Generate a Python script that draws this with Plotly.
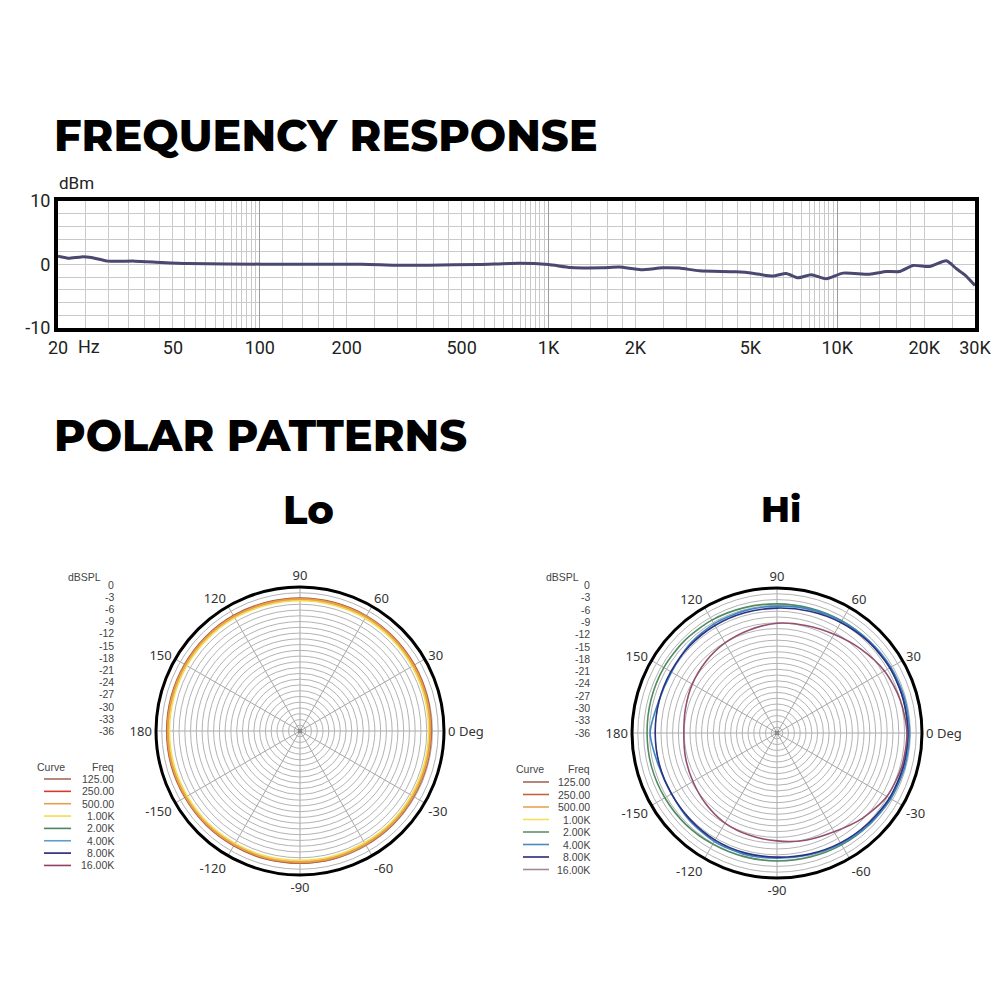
import math
import plotly.graph_objects as go

# ---------------- Frequency response data ----------------
freq_hz = [20, 21.7, 24.1, 26.1, 29.8, 36.9, 45.7, 56.5, 101.6, 226, 295, 385, 574, 790,
           1000, 1194, 1538, 1758, 2090, 2484, 2838, 3330, 4467, 5098, 5984, 6657, 7308,
           8128, 9162, 10472, 12950, 14790, 16443, 18310, 20900, 23880, 25880, 27660, 30000]
resp_dbm = [1.3, 1.0, 1.2, 1.1, 0.53, 0.53, 0.32, 0.16, 0.05, 0.05, -0.1, -0.1, 0.0, 0.2,
            0.0, -0.47, -0.52, -0.41, -0.83, -0.52, -0.57, -0.99, -1.15, -1.36, -1.83, -1.41, -2.1,
            -1.62, -2.25, -1.36, -1.52, -1.1, -1.1, -0.15, -0.31, 0.58, -0.68, -1.62, -3.3]

fr_tick_vals = [20, 50, 100, 200, 500, 1000, 2000, 5000, 10000, 20000, 30000]
fr_tick_text = ["20", "50", "100", "200", "500", "1K", "2K", "5K", "10K", "20K", "30K"]
fr_y_ticks = [-10, 0, 10]
fr_y_text = ["-10", "0", "10"]

# ---------------- Polar pattern data (dBSPL, every 15 deg from 0 to 345) ----------------
angles_deg = [0, 15, 30, 45, 60, 75, 90, 105, 120, 135, 150, 165,
              180, 195, 210, 225, 240, 255, 270, 285, 300, 315, 330, 345]

curve_names = ["125.00", "250.00", "500.00", "1.00K", "2.00K", "4.00K", "8.00K", "16.00K"]

lo_125 = [-1.9, -1.8, -1.7, -1.6, -1.5, -1.5, -1.5, -1.5, -1.4, -1.4, -1.4, -1.4,
          -1.4, -1.4, -1.5, -1.5, -1.6, -1.6, -1.7, -1.7, -1.8, -1.8, -1.9, -1.9]
lo_250 = [-2.0, -1.9, -1.8, -1.7, -1.6, -1.6, -1.6, -1.6, -1.5, -1.5, -1.5, -1.5,
          -1.5, -1.5, -1.6, -1.6, -1.7, -1.7, -1.8, -1.8, -1.9, -1.9, -2.0, -2.0]
lo_500 = [-2.1, -2.0, -1.9, -1.8, -1.7, -1.7, -1.7, -1.7, -1.6, -1.6, -1.6, -1.6,
          -1.6, -1.6, -1.7, -1.7, -1.8, -1.8, -1.9, -1.9, -2.0, -2.0, -2.1, -2.1]
lo_1k = [-2.5, -2.4, -2.3, -2.2, -2.1, -2.1, -2.1, -2.1, -2.0, -2.0, -2.0, -2.0,
         -2.0, -2.0, -2.1, -2.1, -2.2, -2.2, -2.3, -2.3, -2.4, -2.4, -2.5, -2.5]

hi_2k = [-2.2, -2.2, -2.3, -2.4, -2.5, -2.6, -2.6, -2.5, -2.3, -2.2, -2.2, -2.3,
         -2.4, -2.4, -2.5, -2.6, -2.8, -2.9, -2.9, -2.8, -2.6, -2.4, -2.3, -2.2]
hi_4k = [-1.7, -1.8, -2.0, -2.3, -2.6, -2.9, -3.2, -3.3, -3.4, -3.8, -4.5, -4.3,
         -3.2, -4.2, -4.5, -4.0, -3.6, -3.5, -3.6, -3.4, -2.9, -2.4, -2.0, -1.8]
hi_8k = [-2.1, -2.2, -2.3, -2.6, -3.0, -3.4, -3.7, -3.8, -3.9, -4.1, -4.3, -4.4,
         -4.5, -4.5, -4.5, -4.3, -4.0, -3.9, -3.9, -3.6, -3.2, -2.8, -2.4, -2.2]
hi_16k = [-2.4, -3.0, -3.9, -5.3, -6.5, -7.2, -7.6, -8.4, -9.1, -9.9, -10.7, -11.5,
          -11.9, -11.5, -10.9, -10.0, -9.1, -8.6, -8.1, -7.3, -6.5, -4.8, -3.2, -2.6]

spl_scale = [0, -3, -6, -9, -12, -15, -18, -21, -24, -27, -30, -33, -36]

angle_tick_vals = [0, 30, 60, 90, 120, 150, 180, 210, 240, 270, 300, 330]
angle_tick_text = ["0 Deg", "30", "60", "90", "120", "150", "180", "-150", "-120", "-90", "-60", "-30"]

lo_colors = ["#a26d5c", "#d43a2e", "#e3a048", "#f3dc52", "#4f8463", "#5b9ecb", "#23237a", "#923f63"]
hi_colors = ["#a0685a", "#c8623e", "#e9a352", "#f1df5e", "#5e9172", "#4a89bd", "#28297b", "#a08a98"]
hi_curve_colors = ["#4f8a60", "#3f86c4", "#2a3382", "#93506f"]

# ---------------- styling ----------------
TITLE_FONT = "Montserrat, Inter, Lato, sans-serif"
NARROW = "Liberation Sans Narrow, Roboto, sans-serif"
SMALL = "Noto Sans, Open Sans, sans-serif"
LEGEND_FONT = "Liberation Sans, Arial, sans-serif"

fig = go.Figure()

# frequency-response curve (on overlay axis x2 so it sits above all grid lines)
fig.add_trace(go.Scatter(x=freq_hz, y=resp_dbm, mode="lines", xaxis="x2", yaxis="y",
                         line=dict(color="#4a4770", width=3, shape="spline", smoothing=0.6),
                         showlegend=False, hoverinfo="skip"))

# grid frequencies (graph-paper style)
mults = [1, 1.2, 1.4, 1.6, 1.8, 2, 2.5, 3, 3.5, 4, 4.5, 5, 5.5, 6, 6.5, 7, 7.5, 8, 8.33,
         8.67, 9, 9.33, 9.67]
grid_freqs = [m * d for d in (10, 100, 1000, 10000) for m in mults if 20 <= m * d <= 30000]
xr = [math.log10(20), math.log10(30000)]

fig.update_layout(
    xaxis=dict(type="log", range=xr, domain=[0.058, 0.975], anchor="y", automargin=False,
               tickmode="array", tickvals=fr_tick_vals, ticktext=fr_tick_text,
               showgrid=False, ticks="", zeroline=False,
               tickfont=dict(family=NARROW, size=18, color="#222"),
               showline=True, mirror=True, linecolor="black", linewidth=4,
               minor=dict(tickmode="array", tickvals=grid_freqs, showgrid=True,
                          gridcolor="#c9c9c9", gridwidth=1, ticks="")),
    xaxis2=dict(type="log", range=xr, overlaying="x", anchor="y", automargin=False,
                tickmode="array", tickvals=[100, 1000, 10000], showticklabels=False,
                showgrid=True, gridcolor="#9c9c9c", gridwidth=1, ticks="", zeroline=False,
                showline=False),
    yaxis=dict(range=[-10, 10], domain=[0.672, 0.799], anchor="x", automargin=False,
               tickmode="array", tickvals=fr_y_ticks, ticktext=fr_y_text,
               showgrid=False, zeroline=False,
               ticks="", tickfont=dict(family=NARROW, size=18, color="#222"),
               showline=True, mirror=True, linecolor="black", linewidth=4,
               minor=dict(tickmode="array", tickvals=list(range(-8, 10, 2)), showgrid=True,
                          gridcolor="#c9c9c9", gridwidth=1, ticks="")),
)

# ---------------- polar charts ----------------
grid_db = [-36 + 1.5 * k for k in range(1, 25)]

def polar_cfg(dx, dy):
    return dict(
        domain=dict(x=dx, y=dy), bgcolor="white",
        radialaxis=dict(range=[-36, 1.5], tickmode="array", tickvals=grid_db,
                        showticklabels=False, ticks="", showline=False,
                        gridcolor="#b3b3b3", gridwidth=1),
        angularaxis=dict(tickmode="array", tickvals=angle_tick_vals, ticktext=angle_tick_text,
                         direction="counterclockwise", rotation=0, ticks="",
                         showline=True, linecolor="black", linewidth=3,
                         gridcolor="#a6a6a6", gridwidth=1,
                         tickfont=dict(family=SMALL, size=13, color="#333")),
    )

fig.update_layout(polar=polar_cfg([0.156, 0.444], [0.125, 0.413]),
                  polar2=polar_cfg([0.632, 0.922], [0.122, 0.412]))

def closed(vals):
    return vals + vals[:1]

theta_closed = closed(angles_deg)

lo_series = [lo_125, lo_250, lo_500, lo_1k]
lo_widths = [2.5, 2.2, 2.5, 1.6]
for vals, col, w in zip(lo_series, lo_colors[:4], lo_widths):
    fig.add_trace(go.Scatterpolar(r=closed(vals), theta=theta_closed, mode="lines",
                                  line=dict(color=col, width=w, shape="spline"),
                                  subplot="polar", showlegend=False, hoverinfo="skip"))

hi_series = [hi_2k, hi_4k, hi_8k, hi_16k]
for vals, col in zip(hi_series, hi_curve_colors):
    fig.add_trace(go.Scatterpolar(r=closed(vals), theta=theta_closed, mode="lines",
                                  line=dict(color=col, width=1.6, shape="spline", smoothing=0.8),
                                  subplot="polar2", showlegend=False, hoverinfo="skip"))

# small hub mark at the pole of each polar grid
for sp in ("polar", "polar2"):
    fig.add_trace(go.Scatterpolar(r=[-36], theta=[0], mode="markers",
                                  marker=dict(color="#8a8a8a", size=4, symbol="square"),
                                  subplot=sp, showlegend=False, hoverinfo="skip"))

# ---------------- legend swatches on a hidden pixel-scaled axis ----------------
fig.update_layout(
    xaxis3=dict(domain=[0, 1], range=[0, 1000], visible=False, anchor="y3", fixedrange=True,
                automargin=False),
    yaxis3=dict(domain=[0, 1], range=[1000, 0], visible=False, anchor="x3", fixedrange=True,
                automargin=False),
)

legend_blocks = [
    dict(colors=lo_colors, sx=(44, 71), y0=779, dy=12.35, rx=115, hy=766.5, dbx=102, sy0=584.5, sdy=12.2),
    dict(colors=hi_colors, sx=(523, 549), y0=782, dy=12.5, rx=591, hy=769, dbx=580, sy0=585, sdy=12.3),
]

LEG_SIZE = 10.5
leg_font = dict(family=LEGEND_FONT, size=LEG_SIZE, color="#444")

def leg_text(text, x_px, y_px, anchor):
    return dict(text=text, x=x_px / 1000, y=1 - y_px / 1000, xref="paper", yref="paper",
                xanchor=anchor, yanchor="middle", showarrow=False, borderpad=0, font=leg_font)

annotations = []
for blk in legend_blocks:
    for i, (name, col) in enumerate(zip(curve_names, blk["colors"])):
        yy = blk["y0"] + i * blk["dy"]
        fig.add_trace(go.Scatter(x=list(blk["sx"]), y=[yy, yy], mode="lines", xaxis="x3", yaxis="y3",
                                 line=dict(color=col, width=1.6), showlegend=False, hoverinfo="skip"))
        annotations.append(leg_text(name, blk["rx"], yy, "right"))
    annotations.append(leg_text("Curve", blk["sx"][0] - 8, blk["hy"], "left"))
    annotations.append(leg_text("Freq", blk["rx"], blk["hy"], "right"))
    annotations.append(leg_text("dBSPL", blk["dbx"], blk["sy0"] - 8, "right"))
    for k, v in enumerate(spl_scale):
        annotations.append(leg_text(str(v), blk["rx"], blk["sy0"] + k * blk["sdy"], "right"))

# ---------------- titles and labels ----------------
annotations += [
    dict(text="FREQUENCY RESPONSE", x=0.052, y=1 - 0.135, xref="paper", yref="paper",
         xanchor="left", yanchor="middle", showarrow=False,
         font=dict(family=TITLE_FONT, size=43, color="black", weight=800)),
    dict(text="POLAR PATTERNS", x=0.052, y=1 - 0.436, xref="paper", yref="paper",
         xanchor="left", yanchor="middle", showarrow=False,
         font=dict(family=TITLE_FONT, size=43, color="black", weight=800)),
    dict(text="Lo", x=0.308, y=1 - 0.509, xref="paper", yref="paper",
         xanchor="center", yanchor="middle", showarrow=False,
         font=dict(family=TITLE_FONT, size=40, color="black", weight=800)),
    dict(text="Hi", x=0.781, y=1 - 0.509, xref="paper", yref="paper",
         xanchor="center", yanchor="middle", showarrow=False,
         font=dict(family=TITLE_FONT, size=36, color="black", weight=800)),
    dict(text="dBm", x=0.057, y=1 - 0.183, xref="paper", yref="paper",
         xanchor="left", yanchor="middle", showarrow=False,
         font=dict(family=NARROW, size=17, color="#222")),
    dict(text="Hz", x=math.log10(20) + 0.108, y=-10, xref="x", yref="y", yshift=-19,
         xanchor="center", yanchor="middle", showarrow=False,
         font=dict(family=NARROW, size=18, color="#222")),
]

fig.update_layout(annotations=annotations, width=1000, height=1000,
                  margin=dict(l=0, r=0, t=0, b=0, autoexpand=False), paper_bgcolor="white",
                  plot_bgcolor="rgba(0,0,0,0)", showlegend=False)

fig.write_html("out.html", config={"displayModeBar": False},
               post_script="document.body.style.margin='0px';"
                           "document.documentElement.style.overflow='hidden';"
                           "document.body.style.overflow='hidden';")
